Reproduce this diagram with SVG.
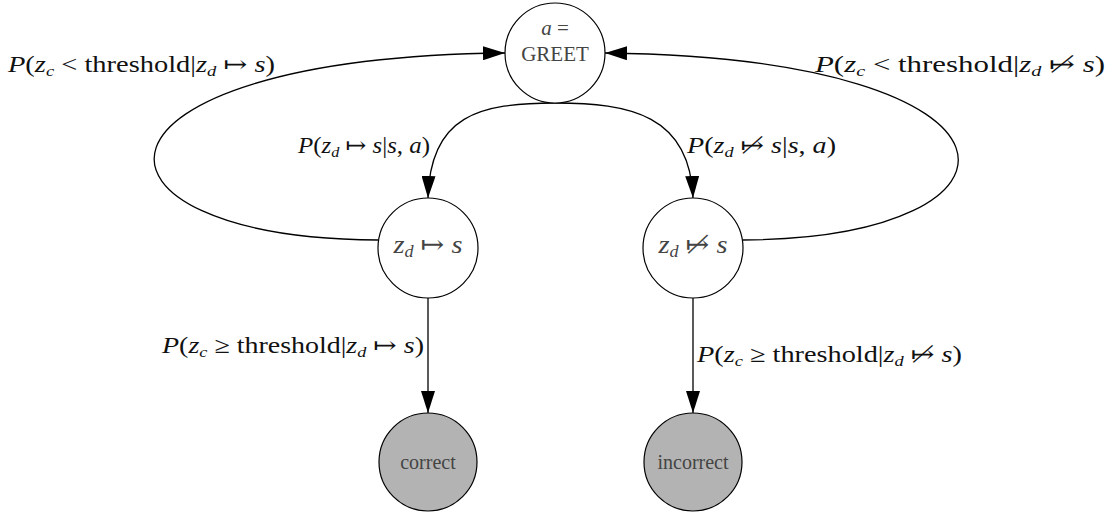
<svg xmlns="http://www.w3.org/2000/svg" width="1109" height="514" viewBox="0 0 1109 514">
<style>
.node{stroke:#000;stroke-width:1.2;}
.open{fill:#fff;}
.term{fill:#b3b3b3;}
.edge{fill:none;stroke:#000;stroke-width:1.3;}
.lbl{font-size:23px;fill:#111;}
.ntx{fill:#444;text-anchor:middle;}
.i{font-style:italic;}
text{font-family:'Liberation Serif','Times New Roman','DejaVu Serif','Noto Serif',serif;}
</style>
<defs>
<marker id="ah" viewBox="0 0 22 14" refX="22" refY="7" markerWidth="22" markerHeight="14" markerUnits="userSpaceOnUse" orient="auto">
<path d="M0,0 L22,7 L0,14 Z" fill="#000"/>
</marker>
</defs>
<g id="connectors">
<path class="edge" d="M555,103 C480,103 430,115 428,198" marker-end="url(#ah)"/>
<path class="edge" d="M555,103 C630,103 690,115 693,198" marker-end="url(#ah)"/>
<path class="edge" d="M378,240 C62,238 60,58 505,53" marker-end="url(#ah)"/>
<path class="edge" d="M743,240 C1048,238 1052,58 605,53" marker-end="url(#ah)"/>
<path class="edge" d="M428,298 L428,413" marker-end="url(#ah)"/>
<path class="edge" d="M693,298 L693,413" marker-end="url(#ah)"/>
</g>
<g id="labels">
<text class="lbl" x="8" y="72" textLength="267" lengthAdjust="spacingAndGlyphs"><tspan class="i">P</tspan>(<tspan class="i">z</tspan><tspan class="i" font-size="15" dy="4">c</tspan><tspan dy="-4"> &lt; threshold|</tspan><tspan class="i">z</tspan><tspan class="i" font-size="15" dy="4">d</tspan><tspan dy="-4"> ↦ </tspan><tspan class="i">s</tspan>)</text>
<text class="lbl" x="815" y="72" textLength="290" lengthAdjust="spacingAndGlyphs"><tspan class="i">P</tspan>(<tspan class="i">z</tspan><tspan class="i" font-size="15" dy="4">c</tspan><tspan dy="-4"> &lt; threshold|</tspan><tspan class="i">z</tspan><tspan class="i" font-size="15" dy="4">d</tspan><tspan dy="-4"> ↦̸ </tspan><tspan class="i">s</tspan>)</text>
<text class="lbl" x="298" y="153" textLength="132" lengthAdjust="spacingAndGlyphs"><tspan class="i">P</tspan>(<tspan class="i">z</tspan><tspan class="i" font-size="15" dy="4">d</tspan><tspan dy="-4"> ↦ </tspan><tspan class="i">s</tspan>|<tspan class="i">s</tspan>, <tspan class="i">a</tspan>)</text>
<text class="lbl" x="687" y="153" textLength="149" lengthAdjust="spacingAndGlyphs"><tspan class="i">P</tspan>(<tspan class="i">z</tspan><tspan class="i" font-size="15" dy="4">d</tspan><tspan dy="-4"> ↦̸ </tspan><tspan class="i">s</tspan>|<tspan class="i">s</tspan>, <tspan class="i">a</tspan>)</text>
<text class="lbl" x="162" y="353" textLength="262" lengthAdjust="spacingAndGlyphs"><tspan class="i">P</tspan>(<tspan class="i">z</tspan><tspan class="i" font-size="15" dy="4">c</tspan><tspan dy="-4"> ≥ threshold|</tspan><tspan class="i">z</tspan><tspan class="i" font-size="15" dy="4">d</tspan><tspan dy="-4"> ↦ </tspan><tspan class="i">s</tspan>)</text>
<text class="lbl" x="697" y="362" textLength="265" lengthAdjust="spacingAndGlyphs"><tspan class="i">P</tspan>(<tspan class="i">z</tspan><tspan class="i" font-size="15" dy="4">c</tspan><tspan dy="-4"> ≥ threshold|</tspan><tspan class="i">z</tspan><tspan class="i" font-size="15" dy="4">d</tspan><tspan dy="-4"> ↦̸ </tspan><tspan class="i">s</tspan>)</text>
</g>
<g id="node-greet">
<circle class="node open" cx="555" cy="53" r="50"/>
<text class="ntx" x="555" y="35" font-size="21"><tspan class="i">a</tspan> =</text>
<text class="ntx" x="555" y="61" font-size="21">GREET</text>
</g>
<g id="node-maps">
<circle class="node open" cx="428" cy="248" r="50"/>
<text class="ntx" x="428" y="253" font-size="25" textLength="69" lengthAdjust="spacingAndGlyphs"><tspan class="i">z</tspan><tspan class="i" font-size="16" dy="4">d</tspan><tspan dy="-4"> ↦ </tspan><tspan class="i">s</tspan></text>
</g>
<g id="node-notmaps">
<circle class="node open" cx="693" cy="248" r="50"/>
<text class="ntx" x="693" y="253" font-size="25" textLength="69" lengthAdjust="spacingAndGlyphs"><tspan class="i">z</tspan><tspan class="i" font-size="16" dy="4">d</tspan><tspan dy="-4"> ↦̸ </tspan><tspan class="i">s</tspan></text>
</g>
<g id="node-correct">
<circle class="node term" cx="428" cy="462" r="49"/>
<text class="ntx" x="428" y="469" font-size="20">correct</text>
</g>
<g id="node-incorrect">
<circle class="node term" cx="693" cy="462" r="49"/>
<text class="ntx" x="693" y="469" font-size="20">incorrect</text>
</g>
</svg>
